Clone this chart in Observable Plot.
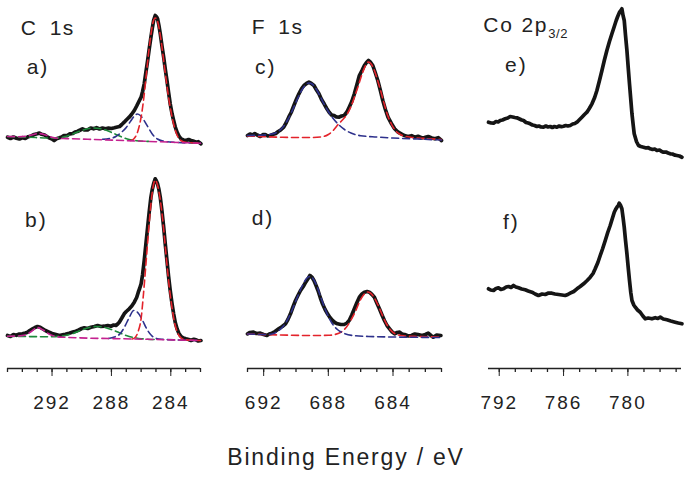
<!DOCTYPE html>
<html><head><meta charset="utf-8">
<script src="https://cdn.jsdelivr.net/npm/d3@7"></script>
<script src="https://cdn.jsdelivr.net/npm/@observablehq/plot@0.6"></script>
<style>
body{margin:0;background:#fff;}
#fig{position:relative;width:685px;height:480px;overflow:hidden;font-family:"Liberation Sans",Arial,sans-serif;color:#222;background:#fff;}
.lab{position:absolute;font-size:21px;line-height:21px;white-space:nowrap;color:#222;}
.plab{letter-spacing:2px;}
.ttl{letter-spacing:1.5px;}
sub{font-size:13px;vertical-align:-6px;line-height:0;letter-spacing:0.5px;}
</style></head><body><div id="fig"></div><script>
// ---------- tick labels ----------
const cMajor = [292, 288, 284];
const cMinor = [295,294,293,292,291,290,289,288,287,286,285,284,283,282];
const fMajor = [692, 688, 684];
const fMinor = [693,692,691,690,689,688,687,686,685,684,683,682,681];
const coMajor = [792, 786, 780];
const coMinor = [792,790.5,789,787.5,786,784.5,783,781.5,780,778.5,777,775.5];

// ---------- a) C 1s ----------
const aBlack = [[295.0,13.3],[294.8,12.0],[294.6,13.5],[294.4,12.2],[294.2,11.5],[294.0,12.8],[293.8,12.0],[293.6,13.8],[293.4,14.5],[293.2,16.0],[293.0,16.8],[292.85,17.5],[292.7,16.2],[292.5,15.5],[292.35,14.0],[292.2,12.7],[292.0,11.5],[291.86,10.0],[291.7,11.8],[291.5,12.7],[291.35,13.5],[291.2,15.0],[291.0,14.8],[290.8,16.7],[290.6,17.0],[290.45,18.5],[290.3,19.0],[290.1,20.5],[289.95,21.7],[289.8,20.5],[289.6,20.7],[289.4,22.5],[289.2,21.7],[289.0,22.8],[288.8,21.5],[288.6,22.5],[288.4,21.8],[288.2,22.4],[288.0,22.0],[287.8,22.7],[287.6,23.5],[287.45,24.0],[287.3,26.0],[287.14,28.3],[287.0,30.5],[286.8,33.3],[286.65,36.0],[286.46,40.0],[286.3,44.5],[286.15,49.0],[286.0,53.3],[285.9,59.0],[285.79,66.7],[285.68,78.0],[285.56,90.0],[285.45,102.0],[285.34,113.3],[285.25,122.0],[285.16,130.0],[285.05,135.0],[284.95,133.5],[284.89,131.7],[284.8,125.0],[284.71,116.7],[284.6,105.0],[284.48,93.3],[284.37,81.0],[284.26,70.0],[284.15,58.0],[284.04,46.7],[283.92,37.0],[283.81,30.0],[283.7,23.5],[283.58,18.3],[283.45,14.5],[283.31,11.7],[283.15,10.5],[282.98,10.0],[282.8,11.0],[282.64,10.0],[282.5,9.5],[282.3,8.3],[282.15,8.8],[281.97,6.7]];
const aMagenta = [[295.0,14.0],[294.3,13.8],[293.7,14.3],[293.3,15.8],[292.9,17.0],[292.5,15.8],[292.1,13.6],[291.6,12.2],[291.0,11.9],[286.5,9.6],[282.0,7.3]];
const aGreen = [[295.0,14.0],[293.5,13.2],[292.2,12.5],[291.6,12.6],[291.1,14.0],[290.6,16.5],[290.1,19.5],[289.6,21.8],[289.2,22.5],[288.8,22.0],[288.3,20.0],[287.8,16.8],[287.3,13.5],[286.8,11.0],[286.3,9.8],[285.5,9.1]];
const aBlue = [[288.6,11.2],[288.1,12.0],[287.7,14.0],[287.3,18.5],[287.0,23.0],[286.7,29.5],[286.45,34.5],[286.27,36.5],[286.05,35.0],[285.8,30.0],[285.5,22.5],[285.2,15.5],[284.9,11.5],[284.5,9.3],[284.0,8.4],[282.0,7.3]];
const aRed = [[286.7,10.0],[286.5,11.5],[286.3,16.0],[286.1,26.0],[285.95,38.0],[285.8,55.0],[285.65,76.0],[285.5,97.0],[285.35,115.0],[285.2,128.0],[285.05,132.5],[284.9,129.5],[284.75,119.0],[284.6,104.0],[284.45,86.0],[284.3,69.0],[284.15,53.0],[284.0,40.0],[283.85,29.0],[283.7,20.5],[283.55,14.5],[283.4,11.0],[283.2,9.0],[283.0,8.2],[282.0,7.3]];

// ---------- b) C 1s ----------
const bBlack = [[295.0,15.0],[294.8,14.0],[294.6,16.0],[294.4,15.2],[294.2,16.5],[294.0,16.7],[293.8,17.5],[293.65,18.3],[293.5,20.0],[293.31,21.7],[293.15,23.0],[292.98,24.0],[292.8,23.2],[292.64,21.7],[292.45,20.0],[292.2,18.3],[292.0,17.0],[291.74,16.0],[291.5,15.0],[291.29,15.7],[291.1,16.2],[290.85,17.3],[290.6,18.5],[290.4,19.3],[290.2,20.5],[290.0,22.0],[289.83,22.7],[289.6,22.0],[289.38,23.3],[289.15,24.0],[288.93,25.0],[288.7,24.0],[288.49,24.3],[288.25,25.0],[288.03,24.3],[287.85,25.5],[287.7,25.0],[287.58,26.5],[287.47,28.3],[287.3,32.5],[287.14,36.7],[287.0,39.0],[286.8,41.7],[286.63,44.5],[286.46,48.3],[286.3,53.0],[286.19,58.3],[286.1,62.0],[286.0,66.7],[285.9,76.0],[285.79,90.0],[285.68,106.0],[285.56,123.3],[285.45,139.0],[285.34,153.3],[285.25,161.0],[285.16,166.7],[285.05,171.7],[284.97,169.5],[284.89,166.7],[284.8,161.0],[284.71,153.3],[284.6,140.0],[284.48,123.3],[284.37,106.0],[284.26,90.0],[284.15,74.0],[284.04,60.0],[283.92,47.0],[283.81,36.7],[283.7,28.0],[283.58,21.7],[283.45,17.0],[283.31,14.0],[283.15,12.5],[282.98,11.7],[282.8,11.0],[282.64,10.0],[282.45,11.2],[282.3,10.7],[282.15,9.5],[281.97,10.0]];
const bMagenta = [[295.0,14.3],[294.3,14.5],[293.8,15.5],[293.4,19.0],[293.0,23.0],[292.6,20.5],[292.2,16.5],[291.8,14.2],[291.3,13.3],[286.5,11.5],[282.0,10.0]];
const bGreen = [[295.0,14.3],[293.5,13.9],[292.5,13.8],[291.8,13.9],[291.2,14.8],[290.6,17.0],[290.0,20.5],[289.5,23.0],[289.0,24.0],[288.5,23.3],[288.0,21.0],[287.5,18.0],[287.0,15.0],[286.5,13.0],[286.0,11.8],[285.0,11.0]];
const bBlue = [[288.2,12.0],[287.8,13.5],[287.4,17.0],[287.1,24.0],[286.8,33.0],[286.5,40.0],[286.2,37.5],[285.9,30.0],[285.6,21.0],[285.3,15.0],[285.0,12.2],[284.6,11.2],[282.0,10.0]];
const bRed = [[286.6,11.5],[286.4,13.0],[286.2,19.0],[286.0,32.0],[285.85,55.0],[285.7,82.0],[285.55,110.0],[285.4,137.0],[285.25,158.0],[285.1,169.5],[285.05,170.5],[284.95,168.0],[284.8,159.0],[284.65,144.0],[284.5,124.0],[284.35,100.0],[284.2,77.0],[284.05,57.0],[283.9,41.0],[283.75,28.0],[283.6,20.0],[283.45,15.0],[283.3,12.5],[283.1,11.0],[282.5,10.2],[282.0,10.0]];

// ---------- c) F 1s ----------
const cBlack = [[693.0,15.0],[692.85,16.5],[692.7,15.5],[692.55,17.0],[692.4,15.5],[692.21,14.0],[692.05,15.8],[691.9,16.0],[691.75,14.5],[691.59,15.0],[691.4,16.2],[691.25,17.0],[691.1,19.0],[690.95,20.5],[690.76,23.3],[690.6,28.0],[690.45,33.3],[690.3,38.0],[690.13,45.0],[689.98,51.0],[689.82,56.7],[689.65,62.0],[689.51,65.0],[689.35,67.0],[689.2,68.3],[689.05,67.0],[688.89,65.0],[688.75,61.0],[688.58,56.7],[688.42,51.0],[688.26,46.7],[688.1,42.0],[687.95,38.3],[687.8,35.5],[687.64,35.0],[687.5,33.5],[687.33,33.3],[687.18,34.5],[687.02,35.0],[686.85,38.5],[686.71,43.3],[686.55,49.0],[686.39,56.7],[686.23,66.0],[686.08,75.0],[685.92,80.0],[685.77,85.0],[685.64,88.0],[685.52,90.0],[685.38,88.0],[685.25,85.0],[685.1,78.0],[684.94,70.0],[684.78,60.0],[684.63,50.0],[684.47,41.0],[684.31,33.3],[684.1,27.0],[683.9,21.7],[683.7,18.5],[683.49,16.7],[683.3,15.0],[683.07,14.0],[682.85,14.8],[682.66,13.3],[682.45,14.2],[682.24,12.7],[682.05,13.0],[681.82,14.0],[681.6,12.5],[681.41,11.7],[681.2,12.8],[681.0,10.0]];
const cBlue = [[693.0,15.0],[692.0,15.5],[691.5,16.5],[691.1,19.0],[690.8,23.5],[690.5,31.0],[690.2,41.0],[689.9,52.0],[689.6,61.5],[689.35,66.5],[689.2,67.5],[689.0,66.5],[688.75,61.5],[688.5,54.0],[688.25,46.0],[688.0,39.0],[687.7,32.0],[687.4,26.5],[687.0,21.0],[686.6,17.5],[686.0,14.8],[685.0,13.5],[684.0,12.5],[682.5,11.5],[681.0,10.5]];
const cRed = [[693.0,14.5],[692.0,13.8],[691.0,13.3],[690.0,13.0],[689.0,13.0],[688.3,14.0],[688.0,16.0],[687.7,20.0],[687.4,26.0],[687.1,31.0],[686.85,36.0],[686.6,44.0],[686.35,55.0],[686.1,67.0],[685.9,77.0],[685.7,85.0],[685.52,88.5],[685.35,86.5],[685.15,80.0],[684.95,70.0],[684.75,59.0],[684.55,47.0],[684.35,36.0],[684.1,26.5],[683.85,20.0],[683.6,16.5],[683.3,14.5],[682.8,13.0],[682.0,12.0],[681.0,11.0]];

// ---------- d) F 1s ----------
const dBlack = [[693.0,16.7],[692.85,18.0],[692.63,18.3],[692.45,17.0],[692.21,17.3],[692.0,16.0],[691.8,15.0],[691.65,16.5],[691.48,17.3],[691.3,19.0],[691.07,21.7],[690.85,24.0],[690.65,26.7],[690.5,31.0],[690.34,36.7],[690.2,43.0],[690.03,50.0],[689.88,55.0],[689.72,60.0],[689.55,64.0],[689.4,68.3],[689.25,72.0],[689.14,75.0],[689.0,73.0],[688.89,70.0],[688.76,65.0],[688.64,60.0],[688.5,53.0],[688.36,46.7],[688.2,41.0],[688.05,36.7],[687.9,33.0],[687.74,30.0],[687.6,28.0],[687.43,26.7],[687.22,26.0],[687.02,26.0],[686.85,27.5],[686.71,30.0],[686.55,35.5],[686.39,41.7],[686.23,48.0],[686.08,53.3],[685.92,56.5],[685.77,58.3],[685.6,59.0],[685.46,58.3],[685.3,56.0],[685.15,53.3],[685.0,47.5],[684.84,41.7],[684.68,35.5],[684.53,30.0],[684.37,25.0],[684.21,21.7],[684.05,18.5],[683.9,16.7],[683.75,18.0],[683.59,18.3],[683.45,16.5],[683.28,16.0],[683.05,14.5],[682.86,15.0],[682.65,16.5],[682.45,16.0],[682.2,15.0],[682.0,16.0],[681.82,17.3],[681.65,15.0],[681.51,13.3],[681.3,15.5],[681.04,15.0]];
const dBlue = [[693.0,16.5],[692.0,16.0],[691.5,16.5],[691.1,19.5],[690.8,24.0],[690.5,31.5],[690.2,42.0],[689.9,54.0],[689.6,65.0],[689.35,72.0],[689.15,74.0],[688.95,72.0],[688.7,64.0],[688.45,52.5],[688.2,41.5],[687.95,32.5],[687.7,25.5],[687.4,20.5],[687.0,17.0],[686.5,15.0],[685.5,14.0],[684.0,13.5],[681.0,13.0]];
const dRed = [[693.0,16.5],[691.0,15.5],[689.0,15.0],[688.0,15.2],[687.6,16.0],[687.2,18.5],[686.9,23.0],[686.6,30.5],[686.3,40.0],[686.05,49.5],[685.8,56.0],[685.6,58.5],[685.4,57.5],[685.15,52.5],[684.9,44.5],[684.65,35.0],[684.4,26.5],[684.15,20.5],[683.9,17.0],[683.5,15.0],[682.5,14.0],[681.0,13.5]];

// ---------- e) Co 2p3/2 ----------
const eBlack = [[793.0,38.3],[792.75,37.5],[792.53,37.3],[792.3,39.0],[792.1,38.5],[791.91,40.0],[791.7,40.5],[791.44,41.7],[791.2,42.5],[790.98,44.0],[790.75,43.5],[790.55,43.0],[790.35,42.7],[790.1,41.5],[789.9,40.5],[789.73,40.0],[789.5,38.0],[789.3,37.5],[789.11,36.7],[788.9,35.5],[788.7,35.0],[788.49,34.0],[788.3,34.5],[788.1,33.5],[787.87,33.3],[787.65,34.5],[787.45,33.5],[787.24,34.0],[787.05,33.0],[786.85,34.0],[786.62,33.3],[786.4,34.5],[786.2,33.8],[786.0,34.3],[785.8,35.0],[785.6,34.5],[785.38,35.0],[785.15,36.5],[784.95,37.0],[784.75,38.3],[784.5,41.0],[784.29,43.3],[784.05,46.0],[783.82,48.3],[783.6,52.0],[783.35,56.7],[783.1,63.0],[782.89,70.0],[782.65,80.0],[782.42,90.0],[782.2,100.0],[781.96,110.0],[781.72,119.0],[781.49,126.7],[781.3,133.0],[781.09,140.0],[780.95,144.0],[780.78,148.3],[780.65,150.0],[780.56,151.7],[780.45,145.0],[780.34,140.0],[780.22,125.0],[780.09,110.0],[779.97,93.0],[779.85,76.7],[779.73,61.0],[779.62,46.7],[779.5,35.0],[779.41,26.7],[779.2,19.0],[779.01,15.0],[778.8,14.0],[778.54,13.3],[778.3,12.5],[778.1,12.8],[777.92,11.7],[777.7,11.0],[777.5,11.5],[777.29,10.0],[777.05,10.5],[776.85,9.0],[776.68,8.3],[776.45,8.5],[776.25,7.5],[776.05,6.7],[775.85,6.5],[775.6,5.3],[775.43,5.0],[775.2,4.5],[774.96,3.3]];

// ---------- f) Co 2p3/2 ----------
const fBlack = [[793.0,61.7],[792.8,60.5],[792.53,60.0],[792.3,62.0],[792.07,62.7],[791.85,61.0],[791.6,61.7],[791.35,63.5],[791.13,64.0],[790.9,63.0],[790.67,65.0],[790.45,63.5],[790.2,62.7],[789.9,61.5],[789.58,60.7],[789.3,59.5],[788.95,58.3],[788.65,56.5],[788.34,55.0],[788.0,56.5],[787.71,56.0],[787.4,57.5],[787.09,57.3],[786.8,56.5],[786.47,56.0],[786.15,55.5],[785.85,55.0],[785.6,56.0],[785.38,57.3],[785.05,59.0],[784.75,61.7],[784.45,64.0],[784.13,66.7],[783.8,70.0],[783.51,73.3],[783.25,77.0],[783.05,81.7],[782.8,88.0],[782.58,95.0],[782.35,102.0],[782.11,110.0],[781.88,118.0],[781.65,125.0],[781.45,132.0],[781.27,138.3],[781.15,141.0],[781.02,143.3],[780.9,145.0],[780.81,147.3],[780.7,145.5],[780.56,141.7],[780.45,133.0],[780.34,123.3],[780.22,110.0],[780.09,96.7],[779.97,83.0],[779.85,70.0],[779.73,58.0],[779.62,50.0],[779.45,45.5],[779.31,43.3],[779.1,40.5],[778.85,38.3],[778.6,34.5],[778.38,31.7],[778.1,32.5],[777.76,31.7],[777.45,32.8],[777.2,32.0],[776.98,33.3],[776.7,31.5],[776.36,30.7],[776.0,29.5],[775.59,28.3],[775.3,27.5],[774.96,26.7]];

// ---------- layout / style ----------
const COL = {
  C:  {left: 0,   width: 215, mL: 7, mR: 15, domain: [295, 282], major: cMajor,  minor: cMinor},
  F:  {left: 240, width: 210, mL: 7, mR: 9,  domain: [693, 681], major: fMajor,  minor: fMinor},
  Co: {left: 480, width: 205, mL: 8, mR: 4,  domain: [793, 775], major: coMajor, minor: coMinor}
};
const RED = "#e3232b", BLUE = "#2e318c", GREEN = "#1d8a3a", MAG = "#c4218f", BLK = "#151515";
const fig = document.getElementById("fig");

function place(svg, left, top) {
  svg.style.position = "absolute";
  svg.style.left = left + "px";
  svg.style.top = top + "px";
  fig.appendChild(svg);
}
function black(d) {
  return Plot.line(d, {x: p => p[0], y: p => p[1], stroke: BLK, strokeWidth: 3.7, strokeLinejoin: "round", strokeLinecap: "round"});
}
function comp(d, color) {
  return Plot.line(d, {x: p => p[0], y: p => p[1], stroke: color, strokeWidth: 1.6, strokeDasharray: "7,4", curve: "monotone-x"});
}
function panel(col, row, yDomain, marks) {
  const c = COL[col];
  const bottom = row === 2;
  const svg = Plot.plot({
    width: c.width, height: bottom ? 250 : 160,
    marginLeft: c.mL, marginRight: c.mR, marginTop: 0, marginBottom: bottom ? 42 : 0,
    x: bottom
      ? {domain: c.domain, ticks: c.major, tickSize: 8, tickPadding: 18.5, tickFormat: d => String(d), label: null}
      : {domain: c.domain, axis: null},
    y: {domain: yDomain, axis: null},
    style: {background: "transparent", overflow: "visible", fontSize: "19px", fontFamily: "Liberation Sans, Arial, sans-serif", color: "#222", letterSpacing: "2px"},
    marks
  });
  place(svg, c.left, bottom ? 160 : 0);
  if (bottom) {
    // axis line and minor ticks
    const ax = Plot.plot({
      width: c.width, height: 8, marginLeft: c.mL, marginRight: c.mR, marginTop: 2, marginBottom: 2,
      x: {domain: c.domain, axis: null},
      y: {domain: [0, 1], axis: null},
      style: {background: "transparent", overflow: "visible"},
      marks: [
        Plot.ruleY([1], {stroke: "#222", strokeWidth: 1.3}),
        Plot.tickX(c.minor, {x: d => d, stroke: "#222", strokeWidth: 1.3})
      ]
    });
    place(ax, c.left, 366);
  }
}

panel("C", 1, [-10, 150], [black(aBlack), comp(aGreen, GREEN), comp(aBlue, BLUE), comp(aRed, RED), comp(aMagenta, MAG)]);
panel("C", 2, [-18, 190], [black(bBlack), comp(bGreen, GREEN), comp(bBlue, BLUE), comp(bRed, RED), comp(bMagenta, MAG)]);
panel("F", 1, [-10, 150], [black(cBlack), comp(cRed, RED), comp(cBlue, BLUE)]);
panel("F", 2, [-18, 190], [black(dBlack), comp(dRed, RED), comp(dBlue, BLUE)]);
panel("Co", 1, [0, 160], [black(eBlack)]);
panel("Co", 2, [-18, 190], [black(fBlack)]);

// ---------- text ----------
const labels = [
  {t: "C 1s", l: 20.7, top: 17.2, cls: "ttl", ws: 5},
  {t: "a)", l: 26.7, top: 55.5, cls: "plab"},
  {t: "b)", l: 25, top: 209, cls: "plab"},
  {t: "F 1s", l: 251.7, top: 15.5, cls: "ttl", ws: 5},
  {t: "c)", l: 255, top: 55.5, cls: "plab"},
  {t: "d)", l: 251.7, top: 207, cls: "plab"},
  {t: "e)", l: 505, top: 54, cls: "plab"},
  {t: "f)", l: 503, top: 210.5, cls: "plab"}
];
for (const d of labels) {
  const el = document.createElement("div");
  el.className = "lab " + d.cls;
  el.textContent = d.t;
  el.style.left = d.l + "px";
  el.style.top = d.top + "px";
  if (d.ws) el.style.wordSpacing = d.ws + "px";
  fig.appendChild(el);
}
const co = document.createElement("div");
co.className = "lab";
co.style.left = "483.3px"; co.style.top = "14px"; co.style.letterSpacing = "1.8px";
co.innerHTML = "Co 2p<sub>3/2</sub>";
fig.appendChild(co);

const xl = document.createElement("div");
xl.className = "lab";
xl.textContent = "Binding Energy / eV";
xl.style.left = "2px"; xl.style.width = "688px"; xl.style.textAlign = "center";
xl.style.top = "446px"; xl.style.fontSize = "23px"; xl.style.lineHeight = "23px"; xl.style.letterSpacing = "1.8px";
fig.appendChild(xl);
</script></body></html>
